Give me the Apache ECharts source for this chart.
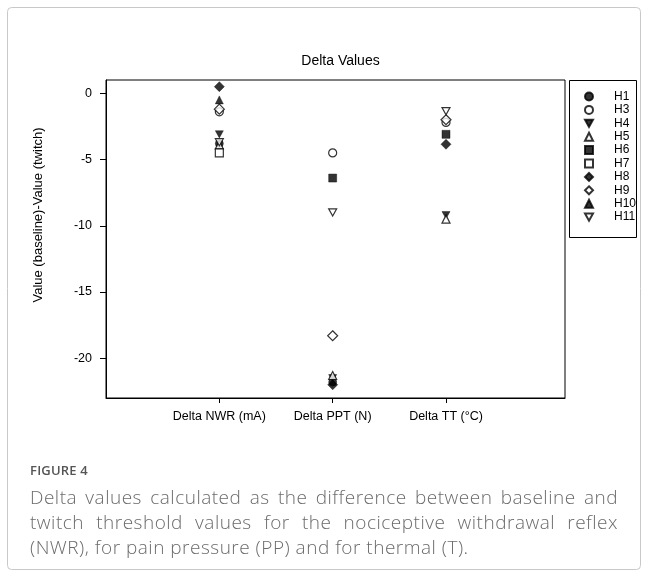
<!DOCTYPE html>
<html>
<head>
<meta charset="utf-8">
<script src="https://cdn.jsdelivr.net/npm/echarts@6/dist/echarts.min.js"></script>
<style>
html,body{margin:0;padding:0;background:#fff;}
#chart{position:absolute;left:0;top:0;width:648px;height:578px;}
#fig{position:absolute;left:30px;top:461px;font-family:"Open Sans",sans-serif;font-size:13px;font-weight:600;color:#555;letter-spacing:0.2px;}
.cap{position:absolute;left:30px;width:588px;font-family:"Open Sans",sans-serif;font-size:19px;line-height:25px;height:25px;color:#6b6b6b;font-weight:300;white-space:nowrap;letter-spacing:0.5px;}
.just{text-align:justify;text-align-last:justify;}
</style>
</head>
<body>
<div id="chart"></div>
<div id="fig">FIGURE 4</div>
<div class="cap just" style="top:485px">Delta values calculated as the difference between baseline and</div>
<div class="cap just" style="top:510px">twitch threshold values for the nociceptive withdrawal reflex</div>
<div class="cap" style="top:535px">(NWR), for pain pressure (PP) and for thermal (T).</div>
<script>
const categories = ['Delta NWR (mA)', 'Delta PPT (N)', 'Delta TT (°C)'];
const subjects = ['H1', 'H3', 'H4', 'H5', 'H6', 'H7', 'H8', 'H9', 'H10', 'H11'];
const H1  = [-3.8, -21.8, null];
const H3  = [-1.4, -4.5, -2.2];
const H4  = [-3.1, -21.5, -9.2];
const H5  = [-3.9, -21.3, -9.5];
const H6  = [null, -6.4, -3.1];
const H7  = [-4.5, null, null];
const H8  = [0.5, -22.0, -3.85];
const H9  = [-1.2, -18.3, -2.0];
const H10 = [-0.5, null, null];
const H11 = [-3.7, -9.0, -1.35];
const yTicks = [0, -5, -10, -15, -20];

const values = [H1, H3, H4, H5, H6, H7, H8, H9, H10, H11];
const downTri = 'path://M0,0 L10,0 L5,9 Z';
const styles = [
  {symbol:'circle', fill:true, size:8},
  {symbol:'circle', fill:false, size:8},
  {symbol:downTri, fill:true, size:8},
  {symbol:'triangle', fill:false, size:8},
  {symbol:'rect', fill:true, size:8},
  {symbol:'rect', fill:false, size:8},
  {symbol:'diamond', fill:true, size:10},
  {symbol:'diamond', fill:false, size:10},
  {symbol:'triangle', fill:true, size:8},
  {symbol:downTri, fill:false, size:8}
];

const series = subjects.map((name, i) => {
  const st = styles[i];
  return {
    name: name,
    type: 'scatter',
    symbol: st.symbol,
    symbolSize: st.size,
    symbolKeepAspect: true,
    itemStyle: st.fill ? {color:'#000', borderColor:'#000', borderWidth:0.5}
                       : {color:'#fff', borderColor:'#000', borderWidth:1.2},
    emphasis: {disabled: true},
    data: values[i].map((v, j) => v === null ? null : [j + 1, v]).filter(d => d !== null)
  };
});

const chart = echarts.init(document.getElementById('chart'), null, {renderer:'canvas'});
chart.setOption({
  animation: false,
  backgroundColor: '#fff',
  textStyle: {fontFamily: 'Arial, "Liberation Sans", sans-serif'},
  title: {
    text: 'Delta Values', left: 335.5, top: 49, textAlign: 'center',
    textStyle: {fontSize: 14, fontWeight: 'normal', color: '#000', fontFamily: 'Arial, "Liberation Sans", sans-serif'}
  },
  grid: {left: 106, top: 80, width: 459, height: 318, show: true, borderColor: '#000', borderWidth: 1, backgroundColor: 'transparent'},
  xAxis: {
    type: 'value', min: 0, max: 4.05,
    axisLine: {show: true, onZero: false, lineStyle: {color: '#000', width: 1}},
    axisTick: {show: true, length: 5, lineStyle: {color: '#000'}, customValues: [1, 2, 3]},
    axisLabel: {show: true, margin: 12, fontSize: 12.5, color: '#000', customValues: [1, 2, 3],
      formatter: v => categories[Math.round(v) - 1] || ''},
    splitLine: {show: false}
  },
  yAxis: {
    type: 'value', min: -23, max: 1,
    axisLine: {show: true, onZero: false, lineStyle: {color: '#000', width: 1}},
    axisTick: {show: true, length: 6, lineStyle: {color: '#000'}, customValues: yTicks},
    axisLabel: {show: true, margin: 14, fontSize: 12.5, color: '#000', customValues: yTicks},
    splitLine: {show: false}
  },
  legend: {
    data: subjects,
    orient: 'vertical',
    left: 584, top: 90,
    padding: 0,
    itemWidth: 8, itemHeight: 8,
    itemGap: 0.4,
    textStyle: {fontSize: 12, color: '#000', lineHeight: 13, padding: [0, 0, 0, 16]},
    selectedMode: false
  },
  graphic: [
    {type: 'rect', shape: {x: 569.5, y: 80.5, width: 67, height: 157}, style: {fill: 'none', stroke: '#000', lineWidth: 1}, z: 10},
    {type: 'rect', shape: {x: 7.5, y: 7.5, width: 633, height: 562, r: 4}, style: {fill: 'none', stroke: '#c8c8c8', lineWidth: 1}, z: 10},
    {type: 'text', x: 38, y: 215, rotation: Math.PI / 2,
      style: {text: 'Value (baseline)-Value (twitch)', fill: '#000', fontSize: 13, fontFamily: 'Arial, "Liberation Sans", sans-serif', align: 'center', verticalAlign: 'middle'}}
  ],
  series: series
});
</script>
</body>
</html>
